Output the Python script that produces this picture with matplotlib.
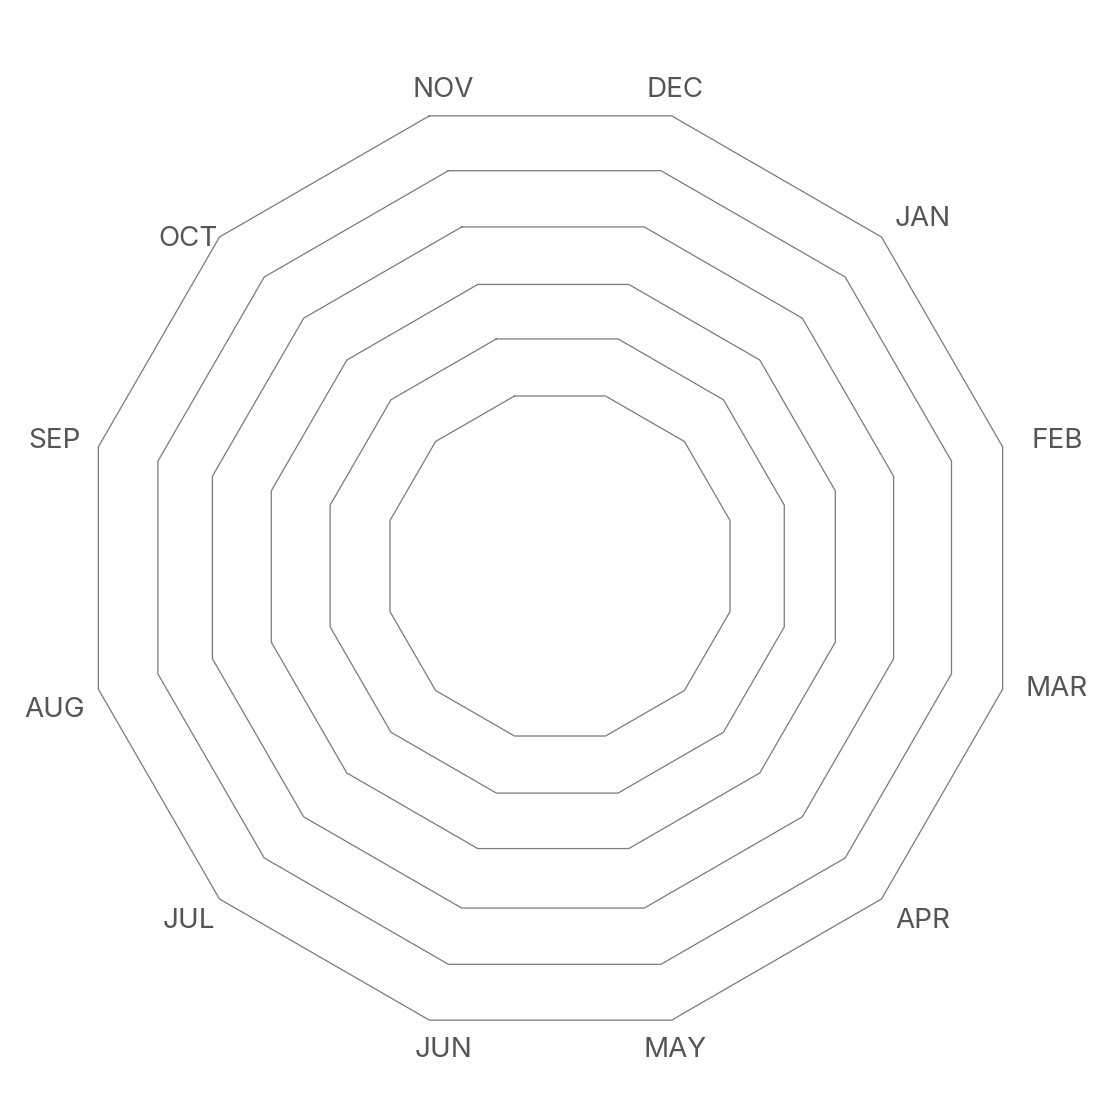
import matplotlib
import matplotlib.pyplot as plt
import numpy as np

matplotlib.use("Agg")

# months clockwise, starting at the vertex just left of the top
months = ["NOV", "DEC", "JAN", "FEB", "MAR", "APR", "MAY", "JUN", "JUL", "AUG", "SEP", "OCT"]
ring_levels = [1, 2, 3, 4, 5, 6]

# ring geometry (px); rings are not quite concentric
ring_radius = {1: 176.0, 2: 235.1, 3: 292.0, 4: 352.6, 5: 410.8, 6: 468.1}
ring_shift = {1: (9.5, 2.0), 2: (6.7, 2.0), 3: (2.8, 1.5), 4: (2.5, 0.5), 5: (4.2, 0.5), 6: (0.0, 0.0)}
label_nudge = {"OCT": (0, -20), "AUG": (0, -11), "MAR": (0, 10)}

grid_color = "#7a7a7a"
text_color = "#555555"

fig = plt.figure(figsize=(11.14, 11.14), dpi=100)
ax = fig.add_axes([0, 0, 1, 1])
ax.set_xlim(-550.5, 563.5)
ax.set_ylim(-546, 568)
ax.set_aspect("equal")
ax.axis("off")

n = len(months)
angles = np.deg2rad(105 - 30 * np.arange(n))
closed = np.append(angles, angles[0])

for level in ring_levels:
    r = ring_radius[level]
    sx, sy = ring_shift[level]
    ax.plot(sx + r * np.cos(closed), sy + r * np.sin(closed), color=grid_color, lw=0.9)

for name, a in zip(months, angles):
    c, s = np.cos(a), np.sin(a)
    # top / bottom labels sit closer to the vertex horizontally
    lx = 448 * c + 9 if abs(c) < 0.5 else 519 * c + 5
    ly = 497 * s - 2
    dx, dy = label_nudge.get(name, (0, 0))
    ax.text(lx + dx, ly + dy, name, ha="center", va="center",
            fontsize=20, color=text_color, family=["Inter", "DejaVu Sans"])

fig.savefig("out.png", dpi=100)
plt.close(fig)
